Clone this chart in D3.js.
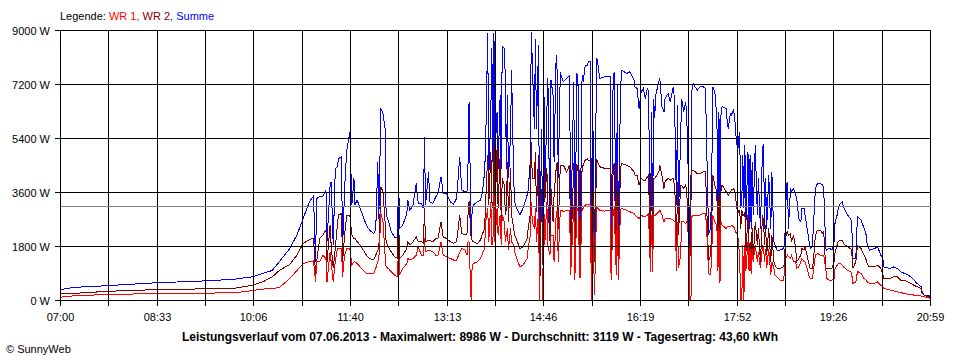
<!DOCTYPE html>
<html>
<head>
<meta charset="utf-8">
<script src="https://cdn.jsdelivr.net/npm/d3@7"></script>
<style>
  html, body { margin: 0; padding: 0; background: #fff; }
  svg { display: block; }
  text { font-family: "Liberation Sans", Arial, sans-serif; font-size: 11px; fill: #000; }
</style>
</head>
<body>
<svg id="chart" width="960" height="360"></svg>
<script>
// ---- data: minutes after 07:00 and power in W ----
const minutes = [
  0,14,38,67,96,125,149,168,185,195,204,211,221,228,234,240,
  244,246,247,250,253,256,257,260,261,263,265,267,268,271,272,274,276,
  279,281,283,284,286,289,292,295,298,302,
  304,306,307,309,311,313,314,316,319,322,
  325,326,327,330,334,335,337,340,343,345,
  348,350,351,352,355,356,359,362,364,367,
  369,372,376,379,382,385,387,390,392,393,
  394,396,397,398,402,405,407,409,410,412,
  413,415,416,417,418,419,421,422,424,425,
  426,428,429,430,431,432,434,435,437,438,
  440,443,446,450,451,453,454,455,457,458,
  459,461,462,464,465,466,467,469,470,472,
  473,475,476,478,479,480,482,483,485,488,
  491,492,495,496,498,499,501,503,504,506,
  508,509,
  511,512,513,515,517,518,520,525,530,531,
  533,534,536,537,538,540,541,546,549,553,
  554,556,558,560,562,564,566,567,569,570,
  571,572,573,574,577,578,580,582,583,586,
  588,591,592,593,594,595,596,598,599,601,
  603,604,606,607,608,609,610,614,617,620,
  622,623,625,
  627,628,629,631,632,633,634,635,636,637,
  638,642,643,644,646,647,649,650,651,652,
  653,654,655,656,657,658,659,660,661,663,
  664,665,666,667,668,670,672,673,675,677,
  678,679,680,681,683,685,686,688,689,691,
  694,697,698,699,700,701,702,704,705,707,
  709,710,712,714,715,717,718,720,722,723,
  725,726,728,730,733,735,736,738,739,741,
  742,744,746,747,749,750,752,754,755,759,
  762,763,764,767,768,769,772,775,777,778,
  780,785,788,791,793,794,800,803,807,810,
  814,817,820,823,826,830,831,833,837,839
];
const summe = [
  367,440,480,540,600,630,670,710,790,900,1000,1290,1730,2180,2730,3290,
  3480,1290,3400,3460,3460,3680,1960,3850,3960,1850,4400,4460,4730,4790,1730,3730,4980,
  5620,3180,4070,3180,3350,3070,2790,2510,2350,2230,
  2350,4620,2730,6400,6230,5730,2850,2680,2290,2120,
  2070,4230,2400,2510,2900,3350,3010,3180,3900,3230,
  3230,3070,5460,3180,4290,3290,3230,3460,3570,4120,
  3570,3570,3290,3210,3400,4790,3680,3620,3620,4570,
  6600,2180,3000,3180,3290,3350,3620,4290,5180,8900,
  4070,6290,8400,4620,8900,4850,6290,4400,6850,4400,
  8460,8400,7400,4400,6850,4070,5500,7680,4070,3290,
  3070,2850,3070,3510,3680,4620,8960,7960,5730,8730,
  5730,8510,1180,5730,1290,8070,3500,6290,7400,2600,
  7350,6850,4620,8180,7620,4070,7620,7460,7290,7400,
  7510,2170,7290,1400,7570,7400,1500,7510,7290,7850,
  7850,7960,
  7960,1400,7180,1510,8090,7960,7400,7460,7460,1700,
  7510,7620,1850,7230,2200,6850,7680,7570,7620,7350,
  7120,7070,6400,6960,7070,6730,7070,6960,2400,6290,
  2400,6730,6070,6850,7290,7400,6460,6290,6730,6900,
  6620,7120,6730,5180,3180,6510,2850,5400,6730,6290,
  6620,6070,3400,1400,4000,7000,7230,7010,7120,7120,
  7070,5400,2200,
  2400,4000,7120,6960,6510,6180,2400,6290,1300,6290,
  6460,6400,5960,5730,6230,6180,6350,6180,5730,5180,
  5730,5070,5620,3070,3290,4850,3070,5180,2600,4960,
  2400,4850,2400,4620,2850,5180,2850,4070,2400,5070,
  5230,2400,4070,2400,4180,2400,4290,1960,1850,1680,
  1680,1730,1850,2400,3850,3960,2400,3730,3620,3730,
  3510,3400,2730,2620,3070,3070,2850,2400,1960,1730,
  1790,2400,3730,3900,3900,3850,3730,1730,1680,1730,
  1730,1680,1960,2620,2850,3070,3230,3290,3120,2850,
  2730,2620,1400,1400,2400,2790,2680,2400,2180,1850,
  1680,1730,1790,1510,1400,1120,1070,1120,1070,960,
  900,850,790,680,570,460,290,180,180,120
];
const wr2 = [
  222,240,290,340,360,380,395,410,510,620,780,1000,1200,1510,1900,2030,
  2070,850,1290,2070,2180,2350,1290,2510,1850,1070,1730,2510,2850,2900,1300,2180,2850,
  2850,2180,2070,2070,1960,1850,1680,1510,1400,1350,
  1510,1680,1730,3790,3620,2620,1960,1790,1620,1460,
  1400,2850,1400,1510,1730,1960,1850,1960,2120,1960,
  1960,1900,3070,1960,2010,2010,1960,2070,2070,2620,
  2120,2070,1960,1900,1960,2850,2230,2180,2230,2850,
  3300,2100,2000,1960,1900,2010,2230,2400,3290,4850,
  3180,4960,3290,3070,5290,2850,5070,3070,4850,2620,
  4070,3850,2850,3070,4620,2620,4400,2850,2400,2180,
  2010,1730,1790,2070,2400,2850,5290,4070,4070,4960,
  2960,4850,0,3730,1200,4850,3290,4400,3290,2000,
  3730,2620,3510,4400,4620,2400,4510,4510,4510,4290,
  4510,1290,4570,1000,4510,4460,1100,4400,4510,4680,
  4730,4680,
  4680,1070,4400,1290,4730,4620,4460,4400,4400,1000,
  4460,4570,1290,4510,1300,4400,4570,4510,4460,4290,
  4180,4180,3850,4070,4010,4010,4120,4180,1800,4290,
  1700,4070,4070,4120,4290,4510,4180,3730,3960,4070,
  4010,4070,3850,3290,1600,3960,2180,3850,3850,3730,
  3850,3620,1300,1300,3300,4350,4350,4230,4230,4290,
  4290,3290,1300,
  1510,2500,4180,3850,3730,3620,1400,3510,700,3730,
  3850,3620,3570,3510,3620,3680,3730,3680,3510,3070,
  3070,2960,3010,2400,3010,2850,2850,2960,1600,2850,
  1400,1960,1500,2400,1400,2620,1850,2400,1290,2850,
  2620,1850,2510,1510,2400,1290,2180,1290,1180,1070,
  1070,1120,1180,1960,2230,2290,2180,2230,1960,2180,
  1730,1290,1400,1510,1730,1680,1790,1510,1180,1070,
  1070,1290,2180,2350,2350,2230,2290,1070,1070,1070,
  1070,1070,1290,1620,1850,1960,2010,2010,1900,1790,
  1730,1680,1070,1290,1680,1820,1730,1510,1350,1230,
  1120,1120,1180,1070,900,730,730,790,790,680,
  680,620,570,510,460,400,230,180,120,90
];
const wr1 = [
  110,160,190,215,230,245,250,260,330,380,400,430,730,1000,1230,1300,
  1320,620,1290,1290,1510,1400,620,1620,1290,620,1290,1730,1730,1730,800,1510,1730,
  1730,1180,1290,1290,1230,1120,1010,900,900,900,
  1070,1290,1400,2900,2620,1510,1120,1070,960,850,
  790,1850,850,1070,1230,1400,1350,1400,1510,1800,
  1510,1510,2070,1620,1680,1680,1620,1510,1510,1960,
  1510,1460,1400,1350,1350,1600,1730,1680,1510,1960,
  1950,0,1200,1230,1290,1400,1570,1730,2620,3070,
  1960,3290,1850,1960,3620,1960,3070,2180,2850,1850,
  2850,2620,1960,2180,2400,1680,2400,1960,1850,1620,
  1400,1120,1180,1400,1730,2180,3290,2620,2400,3070,
  1960,2960,0,0,0,3290,1850,3290,1850,1510,
  2180,2180,1290,2850,3010,1290,3010,3010,2960,3010,
  3010,850,3180,700,3070,3070,750,3070,3070,3180,
  3200,3200,
  3200,0,3070,180,3120,3070,3010,2980,3010,700,
  3010,3070,850,3010,700,3010,3070,3010,2960,2900,
  2850,2790,2730,2850,2790,2790,2850,2900,950,2850,
  950,2850,2850,2850,2960,3010,2850,2620,2730,2730,
  2730,2680,2620,2620,1000,2600,1070,1500,2620,2620,
  2570,2620,2100,0,0,2800,2850,2850,2850,2900,
  2900,2510,900,
  850,1500,2850,2620,2570,2510,1000,2400,600,2620,
  2510,2400,2460,2460,2460,2510,2460,2400,2290,2230,
  2180,1960,1290,0,0,1850,0,1850,1000,1960,
  1000,1730,900,1730,1290,1850,1290,1620,1070,1850,
  1730,1290,1730,1070,1730,850,1290,1070,850,790,
  680,680,850,1290,1460,1510,1460,1400,1510,1290,
  1290,1070,1120,1290,1400,1290,1290,1070,790,730,
  730,960,1510,1570,1510,1510,1510,1070,730,680,
  680,680,730,1070,1180,1230,1230,1180,1120,1010,
  960,900,570,620,850,960,900,730,680,620,
  570,570,620,510,460,400,350,320,290,270,
  230,210,200,180,180,150,120,120,90,70
];

const yTicks = [0, 1800, 3600, 5400, 7200, 9000];
const xTickLabels = ["07:00","08:33","10:06","11:40","13:13","14:46","16:19","17:52","19:26","20:59"];
const spanMinutes = 839;      // 07:00 .. 20:59
const gridIntervals = 18;
const average = 3119;
const legendParts = [
  { text: "Legende: ", color: "#000000" },
  { text: "WR 1, ", color: "#ff0000" },
  { text: "WR 2, ", color: "#800000" },
  { text: "Summe", color: "#0000ff" }
];
const titleText = "Leistungsverlauf vom 07.06.2013 - Maximalwert: 8986 W - Durchschnitt: 3119 W - Tagesertrag: 43,60 kWh";
const creditText = "\u00A9 SunnyWeb";

// ---- drawing ----
const svg = d3.select("#chart");
const plotLeft = 60.5, plotRight = 930.5, plotTop = 30.5, plotBottom = 300.5;

const x = d3.scaleLinear().domain([0, spanMinutes]).range([plotLeft, plotRight]);
const y = d3.scaleLinear().domain([0, 9000]).range([plotBottom, plotTop]);

svg.append("rect").attr("width", 960).attr("height", 360).attr("fill", "#fff");

const series = [
  { values: summe, color: "#0000ff" },
  { values: wr2,   color: "#800000" },
  { values: wr1,   color: "#ff0000" }
];
const line = d3.line()
  .defined(d => d != null)
  .x((d, i) => x(minutes[i]))
  .y(d => y(d));

svg.append("g").selectAll("path")
  .data(series)
  .join("path")
  .attr("d", s => line(s.values))
  .attr("fill", "none")
  .attr("stroke", s => s.color)
  .attr("stroke-width", 1)
  .attr("shape-rendering", "crispEdges")
  .attr("stroke-linejoin", "miter");

// vertical grid + ticks
const gridPos = d3.range(gridIntervals + 1).map(i => Math.round(x(i * spanMinutes / gridIntervals) - 0.5) + 0.5);
const grid = svg.append("g").attr("stroke", "#000").attr("stroke-width", 1).attr("shape-rendering", "crispEdges");
grid.selectAll("line.v").data(gridPos).join("line")
  .attr("class", "v")
  .attr("x1", d => d).attr("x2", d => d)
  .attr("y1", plotTop).attr("y2", plotBottom + 5);

// horizontal grid + ticks
grid.selectAll("line.h").data(yTicks).join("line")
  .attr("class", "h")
  .attr("x1", plotLeft - 6).attr("x2", plotRight)
  .attr("y1", d => y(d)).attr("y2", d => y(d));

// average line
const avgY = Math.round(y(average) - 0.5) + 0.5;
svg.append("line")
  .attr("x1", plotLeft).attr("x2", plotRight)
  .attr("y1", avgY).attr("y2", avgY)
  .attr("stroke", "#808080").attr("stroke-width", 1).attr("shape-rendering", "crispEdges");

// y labels
svg.append("g").selectAll("text").data(yTicks).join("text")
  .attr("x", 50).attr("y", d => y(d) + 4)
  .attr("text-anchor", "end")
  .text(d => d + " W");

// x labels (every second grid line)
svg.append("g").selectAll("text").data(xTickLabels).join("text")
  .attr("x", (d, i) => gridPos[i * 2])
  .attr("y", 321)
  .attr("text-anchor", "middle")
  .text(d => d);

// legend
const leg = svg.append("text").attr("x", 60).attr("y", 20).attr("xml:space", "preserve");
leg.selectAll("tspan").data(legendParts).join("tspan")
  .style("fill", d => d.color)
  .text(d => d.text);

// title
svg.append("text")
  .attr("x", 480).attr("y", 341)
  .attr("text-anchor", "middle")
  .style("font-weight", "bold")
  .style("font-size", "12px")
  .text(titleText);

// credit
svg.append("text")
  .attr("x", 6).attr("y", 353)
  .text(creditText);
</script>
</body>
</html>
